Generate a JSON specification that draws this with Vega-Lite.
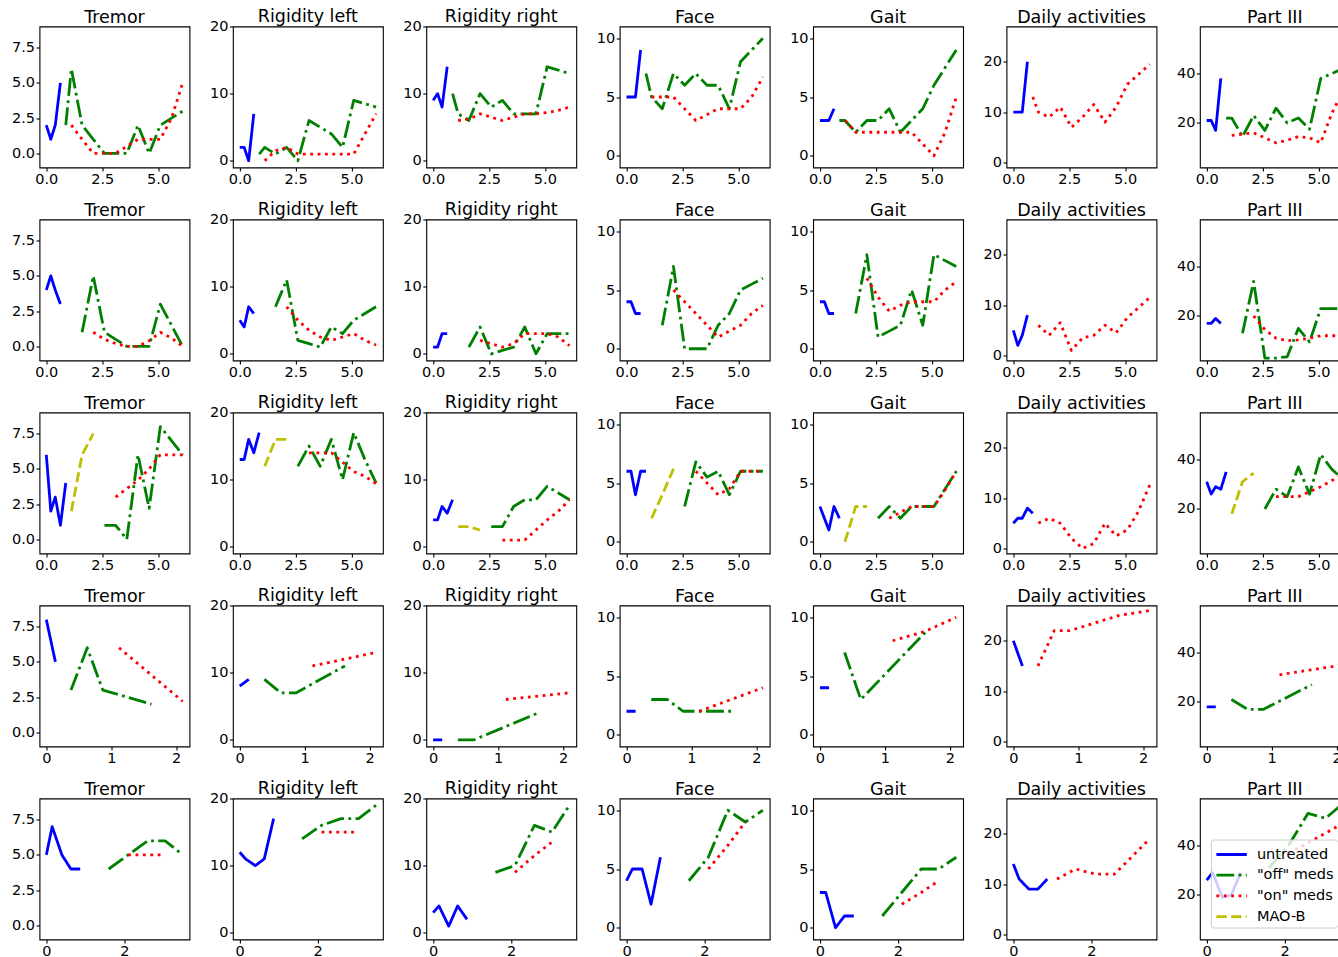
{
"$schema":"https://vega.github.io/schema/vega-lite/v6.json",
"padding":{"left":10.5,"top":7.5,"right":5,"bottom":5},
"background":"white",
"data":{"values":[
{"p":"11","s":"untreated","t":[0,0.2,0.4,0.63],"v":[2,1,2,5]},
{"p":"11","s":"\"off\" meds","t":[0.87,1.12,1.6,2.1,2.6,3.1,3.6,4.1,4.6,5.1,5.6,6.1],"v":[2,6,2,1,0,0,0,2,0,2,2.5,3]},
{"p":"11","s":"\"on\" meds","t":[1.12,1.6,2.1,2.6,3.1,3.6,4.1,4.6,5.1,5.6,6.1],"v":[2,1,0,0,0,0.5,1,1,1,2.5,5]},
{"p":"12","s":"untreated","t":[0,0.2,0.4,0.63],"v":[2,2,0,7]},
{"p":"12","s":"\"off\" meds","t":[0.87,1.12,1.6,2.1,2.6,3.1,3.6,4.1,4.6,5.1,5.6,6.1],"v":[1,2,1,2,0,6,5,4,2,9,8.5,8]},
{"p":"12","s":"\"on\" meds","t":[1.12,1.6,2.1,2.6,3.1,3.6,4.1,4.6,5.1,5.6,6.1],"v":[0,1.5,2,1,1,1,1,1,1,4,7]},
{"p":"13","s":"untreated","t":[0,0.2,0.4,0.63],"v":[9,10,8,14]},
{"p":"13","s":"\"off\" meds","t":[0.87,1.12,1.6,2.1,2.6,3.1,3.6,4.1,4.6,5.1,5.6,6.1],"v":[10,7,6,10,8,9,7,7,7,14,13.5,13]},
{"p":"13","s":"\"on\" meds","t":[1.12,1.6,2.1,2.6,3.1,3.6,4.1,4.6,5.1,5.6,6.1],"v":[6,6.2,7,6.5,6,6.5,7,7,7.2,7.5,8]},
{"p":"14","s":"untreated","t":[0,0.2,0.4,0.63],"v":[5,5,5,9]},
{"p":"14","s":"\"off\" meds","t":[0.87,1.12,1.6,2.1,2.6,3.1,3.6,4.1,4.6,5.1,5.6,6.1],"v":[7,5,4,7,6,7,6,6,4,8,9,10]},
{"p":"14","s":"\"on\" meds","t":[1.12,1.6,2.1,2.6,3.1,3.6,4.1,4.6,5.1,5.6,6.1],"v":[5,5,5,4,3,3.5,4,4,4,5,6.7]},
{"p":"15","s":"untreated","t":[0,0.2,0.4,0.63],"v":[3,3,3,4]},
{"p":"15","s":"\"off\" meds","t":[0.87,1.12,1.6,2.1,2.6,3.1,3.6,4.1,4.6,5.1,5.6,6.1],"v":[3,3,2,3,3,4,2,3,4,6,7.5,9]},
{"p":"15","s":"\"on\" meds","t":[1.12,1.6,2.1,2.6,3.1,3.6,4.1,4.6,5.1,5.6,6.1],"v":[3,2,2,2,2,2,2,1,0,2,5]},
{"p":"16","s":"untreated","t":[0,0.2,0.4,0.63],"v":[10,10,10,20]},
{"p":"16","s":"\"on\" meds","t":[0.87,1.12,1.6,2.1,2.6,3.1,3.6,4.1,4.6,5.1,5.6,6.1],"v":[13,10,9,11,7,9,11.5,8,11,15.5,17.5,19.5]},
{"p":"17","s":"untreated","t":[0,0.2,0.4,0.63],"v":[21,21,17,38]},
{"p":"17","s":"\"off\" meds","t":[0.87,1.12,1.6,2.1,2.6,3.1,3.6,4.1,4.6,5.1,5.6,6.1],"v":[22,22,14.5,23,17,26,20,22,17.5,38,40,42]},
{"p":"17","s":"\"on\" meds","t":[1.12,1.6,2.1,2.6,3.1,3.6,4.1,4.6,5.1,5.6,6.1],"v":[15,15.5,16,14,12,13,14.5,14,12,24,33]},
{"p":"21","s":"untreated","t":[0,0.2,0.4,0.63],"v":[4,5,4,3]},
{"p":"21","s":"\"off\" meds","t":[1.6,2.1,2.6,3.1,3.6,4.1,4.6,5.1,5.6,6.1],"v":[1,5,1,0.5,0,0,0,3,1.5,0]},
{"p":"21","s":"\"on\" meds","t":[2.1,2.6,3.1,3.6,4.1,4.6,5.1,5.6,6.1],"v":[1,0.5,0.2,0,0,0.4,1,0.6,0]},
{"p":"22","s":"untreated","t":[0,0.2,0.4,0.63],"v":[5,4,7,6]},
{"p":"22","s":"\"off\" meds","t":[1.6,2.1,2.6,3.1,3.6,4.1,4.6,5.1,5.6,6.1],"v":[7,11,2,1.5,1,4,3,5,6,7]},
{"p":"22","s":"\"on\" meds","t":[2.1,2.6,3.1,3.6,4.1,4.6,5.1,5.6,6.1],"v":[7,5,3.5,2.5,2,2.5,3,2,1.3]},
{"p":"23","s":"untreated","t":[0,0.2,0.4,0.63],"v":[1,1,3,3]},
{"p":"23","s":"\"off\" meds","t":[1.6,2.1,2.6,3.1,3.6,4.1,4.6,5.1,5.6,6.1],"v":[1,4,0,0.5,1,4,0,3,3,3]},
{"p":"23","s":"\"on\" meds","t":[2.1,2.6,3.1,3.6,4.1,4.6,5.1,5.6,6.1],"v":[2,1.5,1,1.5,3,3,3,2.5,1.2]},
{"p":"24","s":"untreated","t":[0,0.2,0.4,0.63],"v":[4,4,3,3]},
{"p":"24","s":"\"off\" meds","t":[1.6,2.1,2.6,3.1,3.6,4.1,4.6,5.1,5.6,6.1],"v":[2,7,0,0,0,2,3,5,5.5,6]},
{"p":"24","s":"\"on\" meds","t":[2.1,2.6,3.1,3.6,4.1,4.6,5.1,5.6,6.1],"v":[5,4,3,2,1,1.5,2,3,3.7]},
{"p":"25","s":"untreated","t":[0,0.2,0.4,0.63],"v":[4,4,3,3]},
{"p":"25","s":"\"off\" meds","t":[1.6,2.1,2.6,3.1,3.6,4.1,4.6,5.1,5.6,6.1],"v":[3,8,1,1.5,2,5,2,8,7.5,7]},
{"p":"25","s":"\"on\" meds","t":[2.1,2.6,3.1,3.6,4.1,4.6,5.1,5.6,6.1],"v":[6,4.4,3.2,3.7,4,4,4,5,5.7]},
{"p":"26","s":"untreated","t":[0,0.2,0.4,0.63],"v":[5,2,4,8]},
{"p":"26","s":"\"on\" meds","t":[1.12,1.6,2.1,2.6,3.1,3.6,4.1,4.6,5.1,5.6,6.1],"v":[6,4,6.5,1,3.5,4,6,4.5,7.5,9.5,11.5]},
{"p":"27","s":"untreated","t":[0,0.2,0.4,0.63],"v":[17,17,19,17]},
{"p":"27","s":"\"off\" meds","t":[1.6,2.1,2.6,3.1,3.6,4.1,4.6,5.1,5.6,6.1],"v":[13,34,3,3,3.5,15,9.5,23,23,23]},
{"p":"27","s":"\"on\" meds","t":[2.1,2.6,3.1,3.6,4.1,4.6,5.1,5.6,6.1],"v":[20,14.5,11,10,10.3,11,12,12,12]},
{"p":"31","s":"untreated","t":[0,0.2,0.4,0.63,0.87],"v":[6,2,3,1,4]},
{"p":"31","s":"\"off\" meds","t":[2.6,3.1,3.6,4.1,4.6,5.1,5.6,6.1],"v":[1,1,0,6,2.2,8,7,6]},
{"p":"31","s":"\"on\" meds","t":[3.1,3.6,4.1,4.6,5.1,5.6,6.1],"v":[3,3.6,4.2,5,6,6,6]},
{"p":"31","s":"MAO-B","t":[1.12,1.6,2.1],"v":[2,6,7.5]},
{"p":"32","s":"untreated","t":[0,0.2,0.4,0.63,0.87],"v":[13,13,16,14,17]},
{"p":"32","s":"\"off\" meds","t":[2.6,3.1,3.6,4.1,4.6,5.1,5.6,6.1],"v":[12,15,12,16,10,17,13,9.5]},
{"p":"32","s":"\"on\" meds","t":[3.1,3.6,4.1,4.6,5.1,5.6,6.1],"v":[14,14,14,12.6,11.2,10.5,9.4]},
{"p":"32","s":"MAO-B","t":[1.12,1.6,2.1],"v":[12,16,16]},
{"p":"33","s":"untreated","t":[0,0.2,0.4,0.63,0.87],"v":[4,4,6,5,7]},
{"p":"33","s":"\"off\" meds","t":[2.6,3.1,3.6,4.1,4.6,5.1,5.6,6.1],"v":[3,3,6,7,7,9,8,7]},
{"p":"33","s":"\"on\" meds","t":[3.1,3.6,4.1,4.6,5.1,5.6,6.1],"v":[1,1,1,2.5,4,5.3,7]},
{"p":"33","s":"MAO-B","t":[1.12,1.6,2.1],"v":[3,3,2.5]},
{"p":"34","s":"untreated","t":[0,0.2,0.4,0.63,0.87],"v":[6,6,4,6,6]},
{"p":"34","s":"\"off\" meds","t":[2.6,3.1,3.6,4.1,4.6,5.1,5.6,6.1],"v":[3,6.8,5.5,6,4,6,6,6]},
{"p":"34","s":"\"on\" meds","t":[3.1,3.6,4.1,4.6,5.1,5.6,6.1],"v":[6,5,4,4.5,6,6,6]},
{"p":"34","s":"MAO-B","t":[1.12,1.6,2.1],"v":[2,4,6.2]},
{"p":"35","s":"untreated","t":[0,0.2,0.4,0.63,0.87],"v":[3,2,1,3,2]},
{"p":"35","s":"\"off\" meds","t":[2.6,3.1,3.6,4.1,4.6,5.1,5.6,6.1],"v":[2,3,2,3,3,3,4.5,6]},
{"p":"35","s":"\"on\" meds","t":[3.1,3.6,4.1,4.6,5.1,5.6,6.1],"v":[2,2.5,3,3,3,4.4,6]},
{"p":"35","s":"MAO-B","t":[1.12,1.6,2.1],"v":[0,3,3]},
{"p":"36","s":"untreated","t":[0,0.2,0.4,0.63,0.87],"v":[5,6,6,8,7]},
{"p":"36","s":"\"on\" meds","t":[1.12,1.6,2.1,2.6,3.1,3.6,4.1,4.6,5.1,5.6,6.1],"v":[5,6,5,2,0,1,5,2.5,3.7,7.4,12.6]},
{"p":"37","s":"untreated","t":[0,0.2,0.4,0.63,0.87],"v":[31,26,29,28,35]},
{"p":"37","s":"\"off\" meds","t":[2.6,3.1,3.6,4.1,4.6,5.1,5.6,6.1],"v":[20,28,25,37,26,42,36,32]},
{"p":"37","s":"\"on\" meds","t":[3.1,3.6,4.1,4.6,5.1,5.6,6.1],"v":[25,25,25,27,29,31.5,34]},
{"p":"37","s":"MAO-B","t":[1.12,1.6,2.1],"v":[18,31,34.5]},
{"p":"41","s":"untreated","t":[0,0.14],"v":[8,5]},
{"p":"41","s":"\"off\" meds","t":[0.38,0.63,0.87,1.62],"v":[3,6,3,2]},
{"p":"41","s":"\"on\" meds","t":[1.12,2.1],"v":[6,2.2]},
{"p":"42","s":"untreated","t":[0,0.14],"v":[8,9]},
{"p":"42","s":"\"off\" meds","t":[0.38,0.63,0.87,1.62],"v":[9,7,7,11]},
{"p":"42","s":"\"on\" meds","t":[1.12,2.1],"v":[11,13]},
{"p":"43","s":"untreated","t":[0,0.14],"v":[0,0]},
{"p":"43","s":"\"off\" meds","t":[0.38,0.63,1.62],"v":[0,0,4]},
{"p":"43","s":"\"on\" meds","t":[1.12,2.1],"v":[6,7]},
{"p":"44","s":"untreated","t":[0,0.14],"v":[2,2]},
{"p":"44","s":"\"off\" meds","t":[0.38,0.63,0.87,1.62],"v":[3,3,2,2]},
{"p":"44","s":"\"on\" meds","t":[1.12,2.1],"v":[2,4]},
{"p":"45","s":"untreated","t":[0,0.14],"v":[4,4]},
{"p":"45","s":"\"off\" meds","t":[0.38,0.63,1.62],"v":[7,3,8.7]},
{"p":"45","s":"\"on\" meds","t":[1.12,1.62,2.1],"v":[8,8.8,10]},
{"p":"46","s":"untreated","t":[0,0.14],"v":[20,15]},
{"p":"46","s":"\"on\" meds","t":[0.38,0.63,0.87,1.12,1.62,2.1],"v":[15,22,22,23,25,26]},
{"p":"47","s":"untreated","t":[0,0.14],"v":[18,18]},
{"p":"47","s":"\"off\" meds","t":[0.38,0.63,0.87,1.62],"v":[21,17,17,27]},
{"p":"47","s":"\"on\" meds","t":[1.12,2.1],"v":[31,35]},
{"p":"51","s":"untreated","t":[0,0.15,0.4,0.63,0.87],"v":[5,7,5,4,4]},
{"p":"51","s":"\"off\" meds","t":[1.6,2.1,2.6,3.05,3.5],"v":[4,5,6,6,5]},
{"p":"51","s":"\"on\" meds","t":[2.1,2.6,3.05],"v":[5,5,5]},
{"p":"52","s":"untreated","t":[0,0.15,0.4,0.63,0.87],"v":[12,11,10,11,17]},
{"p":"52","s":"\"off\" meds","t":[1.6,2.1,2.6,3.05,3.5],"v":[14,16,17,17,19]},
{"p":"52","s":"\"on\" meds","t":[2.1,2.6,3.05],"v":[15,15,15]},
{"p":"53","s":"untreated","t":[0,0.15,0.4,0.63,0.87],"v":[3,4,1,4,2]},
{"p":"53","s":"\"off\" meds","t":[1.6,2.1,2.6,3.05,3.5],"v":[9,10,16,15,19]},
{"p":"53","s":"\"on\" meds","t":[2.1,2.6,3.05],"v":[9,11.5,13.5]},
{"p":"54","s":"untreated","t":[0,0.15,0.4,0.63,0.87],"v":[4,5,5,2,6]},
{"p":"54","s":"\"off\" meds","t":[1.6,2.1,2.6,3.05,3.5],"v":[4,6,10,9,10]},
{"p":"54","s":"\"on\" meds","t":[2.1,2.6,3.05],"v":[5,7,9]},
{"p":"55","s":"untreated","t":[0,0.15,0.4,0.63,0.87],"v":[3,3,0,1,1]},
{"p":"55","s":"\"off\" meds","t":[1.6,2.1,2.6,3.05,3.5],"v":[1,3,5,5,6]},
{"p":"55","s":"\"on\" meds","t":[2.1,2.6,3.05],"v":[2,3,4]},
{"p":"56","s":"untreated","t":[0,0.15,0.4,0.63,0.87],"v":[14,11,9,9,11]},
{"p":"56","s":"\"on\" meds","t":[1.12,1.6,2.1,2.6,3.05,3.5],"v":[11,13,12,12,15.5,19]},
{"p":"57","s":"untreated","t":[0,0.15,0.4,0.63,0.87],"v":[26,29,19,20,29]},
{"p":"57","s":"\"off\" meds","t":[1.6,2.1,2.6,3.05,3.5],"v":[31,40,53,51,57]},
{"p":"57","s":"\"on\" meds","t":[2.1,2.6,3.05,3.5],"v":[37,41,45,49]}
]},
"transform":[{"flatten":["t","v"]}],
"columns":7,
"spacing":{"row":52,"column":43.4},
"bounds":"flush",
"resolve":{"legend":{"color":"independent","strokeDash":"independent"}},
"concat":[
{"title":"Tremor","width":150,"height":141,"transform":[{"filter":"datum.p=='11'"}],"mark":{"type":"line","strokeWidth":2.8,"strokeJoin":"round"},"encoding":{"x":{"field":"t","type":"quantitative","title":null,"scale":{"domain":[-0.305,6.405],"nice":false,"zero":false},"axis":{"values":[0,2.5,5],"format":".1f"}},"y":{"field":"v","type":"quantitative","title":null,"scale":{"domain":[-1,9],"nice":false,"zero":false},"axis":{"values":[0,2.5,5,7.5],"format":".1f"}},"color":{"field":"s","type":"nominal","scale":{"domain":["untreated","\"off\" meds","\"on\" meds","MAO-B"],"range":["#0000ff","#008000","#ff0000","#bfbf00"]},"legend":null},"strokeDash":{"field":"s","type":"nominal","scale":{"domain":["untreated","\"off\" meds","\"on\" meds","MAO-B"],"range":[[1,0],[17.8,4.4,2.8,4.4],[2.8,4.6],[10.3,4.4]]},"legend":null}}},
{"title":{"text":"Rigidity left","dy":11.25},"width":150,"height":141,"transform":[{"filter":"datum.p=='12'"}],"mark":{"type":"line","strokeWidth":2.8,"strokeJoin":"round"},"encoding":{"x":{"field":"t","type":"quantitative","title":null,"scale":{"domain":[-0.305,6.405],"nice":false,"zero":false},"axis":{"values":[0,2.5,5],"format":".1f"}},"y":{"field":"v","type":"quantitative","title":null,"scale":{"domain":[-1,20],"nice":false,"zero":false},"axis":{"values":[0,10,20],"format":"d"}},"color":{"field":"s","type":"nominal","scale":{"domain":["untreated","\"off\" meds","\"on\" meds","MAO-B"],"range":["#0000ff","#008000","#ff0000","#bfbf00"]},"legend":null},"strokeDash":{"field":"s","type":"nominal","scale":{"domain":["untreated","\"off\" meds","\"on\" meds","MAO-B"],"range":[[1,0],[17.8,4.4,2.8,4.4],[2.8,4.6],[10.3,4.4]]},"legend":null}}},
{"title":{"text":"Rigidity right","dy":11.25},"width":150,"height":141,"transform":[{"filter":"datum.p=='13'"}],"mark":{"type":"line","strokeWidth":2.8,"strokeJoin":"round"},"encoding":{"x":{"field":"t","type":"quantitative","title":null,"scale":{"domain":[-0.305,6.405],"nice":false,"zero":false},"axis":{"values":[0,2.5,5],"format":".1f"}},"y":{"field":"v","type":"quantitative","title":null,"scale":{"domain":[-1,20],"nice":false,"zero":false},"axis":{"values":[0,10,20],"format":"d"}},"color":{"field":"s","type":"nominal","scale":{"domain":["untreated","\"off\" meds","\"on\" meds","MAO-B"],"range":["#0000ff","#008000","#ff0000","#bfbf00"]},"legend":null},"strokeDash":{"field":"s","type":"nominal","scale":{"domain":["untreated","\"off\" meds","\"on\" meds","MAO-B"],"range":[[1,0],[17.8,4.4,2.8,4.4],[2.8,4.6],[10.3,4.4]]},"legend":null}}},
{"title":"Face","width":150,"height":141,"transform":[{"filter":"datum.p=='14'"}],"mark":{"type":"line","strokeWidth":2.8,"strokeJoin":"round"},"encoding":{"x":{"field":"t","type":"quantitative","title":null,"scale":{"domain":[-0.305,6.405],"nice":false,"zero":false},"axis":{"values":[0,2.5,5],"format":".1f"}},"y":{"field":"v","type":"quantitative","title":null,"scale":{"domain":[-1,11],"nice":false,"zero":false},"axis":{"values":[0,5,10],"format":"d"}},"color":{"field":"s","type":"nominal","scale":{"domain":["untreated","\"off\" meds","\"on\" meds","MAO-B"],"range":["#0000ff","#008000","#ff0000","#bfbf00"]},"legend":null},"strokeDash":{"field":"s","type":"nominal","scale":{"domain":["untreated","\"off\" meds","\"on\" meds","MAO-B"],"range":[[1,0],[17.8,4.4,2.8,4.4],[2.8,4.6],[10.3,4.4]]},"legend":null}}},
{"title":"Gait","width":150,"height":141,"transform":[{"filter":"datum.p=='15'"}],"mark":{"type":"line","strokeWidth":2.8,"strokeJoin":"round"},"encoding":{"x":{"field":"t","type":"quantitative","title":null,"scale":{"domain":[-0.305,6.405],"nice":false,"zero":false},"axis":{"values":[0,2.5,5],"format":".1f"}},"y":{"field":"v","type":"quantitative","title":null,"scale":{"domain":[-1,11],"nice":false,"zero":false},"axis":{"values":[0,5,10],"format":"d"}},"color":{"field":"s","type":"nominal","scale":{"domain":["untreated","\"off\" meds","\"on\" meds","MAO-B"],"range":["#0000ff","#008000","#ff0000","#bfbf00"]},"legend":null},"strokeDash":{"field":"s","type":"nominal","scale":{"domain":["untreated","\"off\" meds","\"on\" meds","MAO-B"],"range":[[1,0],[17.8,4.4,2.8,4.4],[2.8,4.6],[10.3,4.4]]},"legend":null}}},
{"title":"Daily activities","width":150,"height":141,"transform":[{"filter":"datum.p=='16'"}],"mark":{"type":"line","strokeWidth":2.8,"strokeJoin":"round"},"encoding":{"x":{"field":"t","type":"quantitative","title":null,"scale":{"domain":[-0.305,6.405],"nice":false,"zero":false},"axis":{"values":[0,2.5,5],"format":".1f"}},"y":{"field":"v","type":"quantitative","title":null,"scale":{"domain":[-1,27],"nice":false,"zero":false},"axis":{"values":[0,10,20],"format":"d"}},"color":{"field":"s","type":"nominal","scale":{"domain":["untreated","\"off\" meds","\"on\" meds","MAO-B"],"range":["#0000ff","#008000","#ff0000","#bfbf00"]},"legend":null},"strokeDash":{"field":"s","type":"nominal","scale":{"domain":["untreated","\"off\" meds","\"on\" meds","MAO-B"],"range":[[1,0],[17.8,4.4,2.8,4.4],[2.8,4.6],[10.3,4.4]]},"legend":null}}},
{"title":"Part III","width":150,"height":141,"transform":[{"filter":"datum.p=='17'"}],"mark":{"type":"line","strokeWidth":2.8,"strokeJoin":"round"},"encoding":{"x":{"field":"t","type":"quantitative","title":null,"scale":{"domain":[-0.305,6.405],"nice":false,"zero":false},"axis":{"values":[0,2.5,5],"format":".1f"}},"y":{"field":"v","type":"quantitative","title":null,"scale":{"domain":[2,59],"nice":false,"zero":false},"axis":{"values":[20,40],"format":"d"}},"color":{"field":"s","type":"nominal","scale":{"domain":["untreated","\"off\" meds","\"on\" meds","MAO-B"],"range":["#0000ff","#008000","#ff0000","#bfbf00"]},"legend":null},"strokeDash":{"field":"s","type":"nominal","scale":{"domain":["untreated","\"off\" meds","\"on\" meds","MAO-B"],"range":[[1,0],[17.8,4.4,2.8,4.4],[2.8,4.6],[10.3,4.4]]},"legend":null}}},

{"title":"Tremor","width":150,"height":141,"transform":[{"filter":"datum.p=='21'"}],"mark":{"type":"line","strokeWidth":2.8,"strokeJoin":"round"},"encoding":{"x":{"field":"t","type":"quantitative","title":null,"scale":{"domain":[-0.305,6.405],"nice":false,"zero":false},"axis":{"values":[0,2.5,5],"format":".1f"}},"y":{"field":"v","type":"quantitative","title":null,"scale":{"domain":[-1,9],"nice":false,"zero":false},"axis":{"values":[0,2.5,5,7.5],"format":".1f"}},"color":{"field":"s","type":"nominal","scale":{"domain":["untreated","\"off\" meds","\"on\" meds","MAO-B"],"range":["#0000ff","#008000","#ff0000","#bfbf00"]},"legend":null},"strokeDash":{"field":"s","type":"nominal","scale":{"domain":["untreated","\"off\" meds","\"on\" meds","MAO-B"],"range":[[1,0],[17.8,4.4,2.8,4.4],[2.8,4.6],[10.3,4.4]]},"legend":null}}},
{"title":{"text":"Rigidity left","dy":11.25},"width":150,"height":141,"transform":[{"filter":"datum.p=='22'"}],"mark":{"type":"line","strokeWidth":2.8,"strokeJoin":"round"},"encoding":{"x":{"field":"t","type":"quantitative","title":null,"scale":{"domain":[-0.305,6.405],"nice":false,"zero":false},"axis":{"values":[0,2.5,5],"format":".1f"}},"y":{"field":"v","type":"quantitative","title":null,"scale":{"domain":[-1,20],"nice":false,"zero":false},"axis":{"values":[0,10,20],"format":"d"}},"color":{"field":"s","type":"nominal","scale":{"domain":["untreated","\"off\" meds","\"on\" meds","MAO-B"],"range":["#0000ff","#008000","#ff0000","#bfbf00"]},"legend":null},"strokeDash":{"field":"s","type":"nominal","scale":{"domain":["untreated","\"off\" meds","\"on\" meds","MAO-B"],"range":[[1,0],[17.8,4.4,2.8,4.4],[2.8,4.6],[10.3,4.4]]},"legend":null}}},
{"title":{"text":"Rigidity right","dy":11.25},"width":150,"height":141,"transform":[{"filter":"datum.p=='23'"}],"mark":{"type":"line","strokeWidth":2.8,"strokeJoin":"round"},"encoding":{"x":{"field":"t","type":"quantitative","title":null,"scale":{"domain":[-0.305,6.405],"nice":false,"zero":false},"axis":{"values":[0,2.5,5],"format":".1f"}},"y":{"field":"v","type":"quantitative","title":null,"scale":{"domain":[-1,20],"nice":false,"zero":false},"axis":{"values":[0,10,20],"format":"d"}},"color":{"field":"s","type":"nominal","scale":{"domain":["untreated","\"off\" meds","\"on\" meds","MAO-B"],"range":["#0000ff","#008000","#ff0000","#bfbf00"]},"legend":null},"strokeDash":{"field":"s","type":"nominal","scale":{"domain":["untreated","\"off\" meds","\"on\" meds","MAO-B"],"range":[[1,0],[17.8,4.4,2.8,4.4],[2.8,4.6],[10.3,4.4]]},"legend":null}}},
{"title":"Face","width":150,"height":141,"transform":[{"filter":"datum.p=='24'"}],"mark":{"type":"line","strokeWidth":2.8,"strokeJoin":"round"},"encoding":{"x":{"field":"t","type":"quantitative","title":null,"scale":{"domain":[-0.305,6.405],"nice":false,"zero":false},"axis":{"values":[0,2.5,5],"format":".1f"}},"y":{"field":"v","type":"quantitative","title":null,"scale":{"domain":[-1,11],"nice":false,"zero":false},"axis":{"values":[0,5,10],"format":"d"}},"color":{"field":"s","type":"nominal","scale":{"domain":["untreated","\"off\" meds","\"on\" meds","MAO-B"],"range":["#0000ff","#008000","#ff0000","#bfbf00"]},"legend":null},"strokeDash":{"field":"s","type":"nominal","scale":{"domain":["untreated","\"off\" meds","\"on\" meds","MAO-B"],"range":[[1,0],[17.8,4.4,2.8,4.4],[2.8,4.6],[10.3,4.4]]},"legend":null}}},
{"title":"Gait","width":150,"height":141,"transform":[{"filter":"datum.p=='25'"}],"mark":{"type":"line","strokeWidth":2.8,"strokeJoin":"round"},"encoding":{"x":{"field":"t","type":"quantitative","title":null,"scale":{"domain":[-0.305,6.405],"nice":false,"zero":false},"axis":{"values":[0,2.5,5],"format":".1f"}},"y":{"field":"v","type":"quantitative","title":null,"scale":{"domain":[-1,11],"nice":false,"zero":false},"axis":{"values":[0,5,10],"format":"d"}},"color":{"field":"s","type":"nominal","scale":{"domain":["untreated","\"off\" meds","\"on\" meds","MAO-B"],"range":["#0000ff","#008000","#ff0000","#bfbf00"]},"legend":null},"strokeDash":{"field":"s","type":"nominal","scale":{"domain":["untreated","\"off\" meds","\"on\" meds","MAO-B"],"range":[[1,0],[17.8,4.4,2.8,4.4],[2.8,4.6],[10.3,4.4]]},"legend":null}}},
{"title":"Daily activities","width":150,"height":141,"transform":[{"filter":"datum.p=='26'"}],"mark":{"type":"line","strokeWidth":2.8,"strokeJoin":"round"},"encoding":{"x":{"field":"t","type":"quantitative","title":null,"scale":{"domain":[-0.305,6.405],"nice":false,"zero":false},"axis":{"values":[0,2.5,5],"format":".1f"}},"y":{"field":"v","type":"quantitative","title":null,"scale":{"domain":[-1,27],"nice":false,"zero":false},"axis":{"values":[0,10,20],"format":"d"}},"color":{"field":"s","type":"nominal","scale":{"domain":["untreated","\"off\" meds","\"on\" meds","MAO-B"],"range":["#0000ff","#008000","#ff0000","#bfbf00"]},"legend":null},"strokeDash":{"field":"s","type":"nominal","scale":{"domain":["untreated","\"off\" meds","\"on\" meds","MAO-B"],"range":[[1,0],[17.8,4.4,2.8,4.4],[2.8,4.6],[10.3,4.4]]},"legend":null}}},
{"title":"Part III","width":150,"height":141,"transform":[{"filter":"datum.p=='27'"}],"mark":{"type":"line","strokeWidth":2.8,"strokeJoin":"round"},"encoding":{"x":{"field":"t","type":"quantitative","title":null,"scale":{"domain":[-0.305,6.405],"nice":false,"zero":false},"axis":{"values":[0,2.5,5],"format":".1f"}},"y":{"field":"v","type":"quantitative","title":null,"scale":{"domain":[2,59],"nice":false,"zero":false},"axis":{"values":[20,40],"format":"d"}},"color":{"field":"s","type":"nominal","scale":{"domain":["untreated","\"off\" meds","\"on\" meds","MAO-B"],"range":["#0000ff","#008000","#ff0000","#bfbf00"]},"legend":null},"strokeDash":{"field":"s","type":"nominal","scale":{"domain":["untreated","\"off\" meds","\"on\" meds","MAO-B"],"range":[[1,0],[17.8,4.4,2.8,4.4],[2.8,4.6],[10.3,4.4]]},"legend":null}}},

{"title":"Tremor","width":150,"height":141,"transform":[{"filter":"datum.p=='31'"}],"mark":{"type":"line","strokeWidth":2.8,"strokeJoin":"round"},"encoding":{"x":{"field":"t","type":"quantitative","title":null,"scale":{"domain":[-0.305,6.405],"nice":false,"zero":false},"axis":{"values":[0,2.5,5],"format":".1f"}},"y":{"field":"v","type":"quantitative","title":null,"scale":{"domain":[-1,9],"nice":false,"zero":false},"axis":{"values":[0,2.5,5,7.5],"format":".1f"}},"color":{"field":"s","type":"nominal","scale":{"domain":["untreated","\"off\" meds","\"on\" meds","MAO-B"],"range":["#0000ff","#008000","#ff0000","#bfbf00"]},"legend":null},"strokeDash":{"field":"s","type":"nominal","scale":{"domain":["untreated","\"off\" meds","\"on\" meds","MAO-B"],"range":[[1,0],[17.8,4.4,2.8,4.4],[2.8,4.6],[10.3,4.4]]},"legend":null}}},
{"title":{"text":"Rigidity left","dy":11.25},"width":150,"height":141,"transform":[{"filter":"datum.p=='32'"}],"mark":{"type":"line","strokeWidth":2.8,"strokeJoin":"round"},"encoding":{"x":{"field":"t","type":"quantitative","title":null,"scale":{"domain":[-0.305,6.405],"nice":false,"zero":false},"axis":{"values":[0,2.5,5],"format":".1f"}},"y":{"field":"v","type":"quantitative","title":null,"scale":{"domain":[-1,20],"nice":false,"zero":false},"axis":{"values":[0,10,20],"format":"d"}},"color":{"field":"s","type":"nominal","scale":{"domain":["untreated","\"off\" meds","\"on\" meds","MAO-B"],"range":["#0000ff","#008000","#ff0000","#bfbf00"]},"legend":null},"strokeDash":{"field":"s","type":"nominal","scale":{"domain":["untreated","\"off\" meds","\"on\" meds","MAO-B"],"range":[[1,0],[17.8,4.4,2.8,4.4],[2.8,4.6],[10.3,4.4]]},"legend":null}}},
{"title":{"text":"Rigidity right","dy":11.25},"width":150,"height":141,"transform":[{"filter":"datum.p=='33'"}],"mark":{"type":"line","strokeWidth":2.8,"strokeJoin":"round"},"encoding":{"x":{"field":"t","type":"quantitative","title":null,"scale":{"domain":[-0.305,6.405],"nice":false,"zero":false},"axis":{"values":[0,2.5,5],"format":".1f"}},"y":{"field":"v","type":"quantitative","title":null,"scale":{"domain":[-1,20],"nice":false,"zero":false},"axis":{"values":[0,10,20],"format":"d"}},"color":{"field":"s","type":"nominal","scale":{"domain":["untreated","\"off\" meds","\"on\" meds","MAO-B"],"range":["#0000ff","#008000","#ff0000","#bfbf00"]},"legend":null},"strokeDash":{"field":"s","type":"nominal","scale":{"domain":["untreated","\"off\" meds","\"on\" meds","MAO-B"],"range":[[1,0],[17.8,4.4,2.8,4.4],[2.8,4.6],[10.3,4.4]]},"legend":null}}},
{"title":"Face","width":150,"height":141,"transform":[{"filter":"datum.p=='34'"}],"mark":{"type":"line","strokeWidth":2.8,"strokeJoin":"round"},"encoding":{"x":{"field":"t","type":"quantitative","title":null,"scale":{"domain":[-0.305,6.405],"nice":false,"zero":false},"axis":{"values":[0,2.5,5],"format":".1f"}},"y":{"field":"v","type":"quantitative","title":null,"scale":{"domain":[-1,11],"nice":false,"zero":false},"axis":{"values":[0,5,10],"format":"d"}},"color":{"field":"s","type":"nominal","scale":{"domain":["untreated","\"off\" meds","\"on\" meds","MAO-B"],"range":["#0000ff","#008000","#ff0000","#bfbf00"]},"legend":null},"strokeDash":{"field":"s","type":"nominal","scale":{"domain":["untreated","\"off\" meds","\"on\" meds","MAO-B"],"range":[[1,0],[17.8,4.4,2.8,4.4],[2.8,4.6],[10.3,4.4]]},"legend":null}}},
{"title":"Gait","width":150,"height":141,"transform":[{"filter":"datum.p=='35'"}],"mark":{"type":"line","strokeWidth":2.8,"strokeJoin":"round"},"encoding":{"x":{"field":"t","type":"quantitative","title":null,"scale":{"domain":[-0.305,6.405],"nice":false,"zero":false},"axis":{"values":[0,2.5,5],"format":".1f"}},"y":{"field":"v","type":"quantitative","title":null,"scale":{"domain":[-1,11],"nice":false,"zero":false},"axis":{"values":[0,5,10],"format":"d"}},"color":{"field":"s","type":"nominal","scale":{"domain":["untreated","\"off\" meds","\"on\" meds","MAO-B"],"range":["#0000ff","#008000","#ff0000","#bfbf00"]},"legend":null},"strokeDash":{"field":"s","type":"nominal","scale":{"domain":["untreated","\"off\" meds","\"on\" meds","MAO-B"],"range":[[1,0],[17.8,4.4,2.8,4.4],[2.8,4.6],[10.3,4.4]]},"legend":null}}},
{"title":"Daily activities","width":150,"height":141,"transform":[{"filter":"datum.p=='36'"}],"mark":{"type":"line","strokeWidth":2.8,"strokeJoin":"round"},"encoding":{"x":{"field":"t","type":"quantitative","title":null,"scale":{"domain":[-0.305,6.405],"nice":false,"zero":false},"axis":{"values":[0,2.5,5],"format":".1f"}},"y":{"field":"v","type":"quantitative","title":null,"scale":{"domain":[-1,27],"nice":false,"zero":false},"axis":{"values":[0,10,20],"format":"d"}},"color":{"field":"s","type":"nominal","scale":{"domain":["untreated","\"off\" meds","\"on\" meds","MAO-B"],"range":["#0000ff","#008000","#ff0000","#bfbf00"]},"legend":null},"strokeDash":{"field":"s","type":"nominal","scale":{"domain":["untreated","\"off\" meds","\"on\" meds","MAO-B"],"range":[[1,0],[17.8,4.4,2.8,4.4],[2.8,4.6],[10.3,4.4]]},"legend":null}}},
{"title":"Part III","width":150,"height":141,"transform":[{"filter":"datum.p=='37'"}],"mark":{"type":"line","strokeWidth":2.8,"strokeJoin":"round"},"encoding":{"x":{"field":"t","type":"quantitative","title":null,"scale":{"domain":[-0.305,6.405],"nice":false,"zero":false},"axis":{"values":[0,2.5,5],"format":".1f"}},"y":{"field":"v","type":"quantitative","title":null,"scale":{"domain":[2,59],"nice":false,"zero":false},"axis":{"values":[20,40],"format":"d"}},"color":{"field":"s","type":"nominal","scale":{"domain":["untreated","\"off\" meds","\"on\" meds","MAO-B"],"range":["#0000ff","#008000","#ff0000","#bfbf00"]},"legend":null},"strokeDash":{"field":"s","type":"nominal","scale":{"domain":["untreated","\"off\" meds","\"on\" meds","MAO-B"],"range":[[1,0],[17.8,4.4,2.8,4.4],[2.8,4.6],[10.3,4.4]]},"legend":null}}},

{"title":"Tremor","width":150,"height":141,"transform":[{"filter":"datum.p=='41'"}],"mark":{"type":"line","strokeWidth":2.8,"strokeJoin":"round"},"encoding":{"x":{"field":"t","type":"quantitative","title":null,"scale":{"domain":[-0.105,2.205],"nice":false,"zero":false},"axis":{"values":[0,1,2],"format":"d"}},"y":{"field":"v","type":"quantitative","title":null,"scale":{"domain":[-1,9],"nice":false,"zero":false},"axis":{"values":[0,2.5,5,7.5],"format":".1f"}},"color":{"field":"s","type":"nominal","scale":{"domain":["untreated","\"off\" meds","\"on\" meds","MAO-B"],"range":["#0000ff","#008000","#ff0000","#bfbf00"]},"legend":null},"strokeDash":{"field":"s","type":"nominal","scale":{"domain":["untreated","\"off\" meds","\"on\" meds","MAO-B"],"range":[[1,0],[17.8,4.4,2.8,4.4],[2.8,4.6],[10.3,4.4]]},"legend":null}}},
{"title":{"text":"Rigidity left","dy":11.25},"width":150,"height":141,"transform":[{"filter":"datum.p=='42'"}],"mark":{"type":"line","strokeWidth":2.8,"strokeJoin":"round"},"encoding":{"x":{"field":"t","type":"quantitative","title":null,"scale":{"domain":[-0.105,2.205],"nice":false,"zero":false},"axis":{"values":[0,1,2],"format":"d"}},"y":{"field":"v","type":"quantitative","title":null,"scale":{"domain":[-1,20],"nice":false,"zero":false},"axis":{"values":[0,10,20],"format":"d"}},"color":{"field":"s","type":"nominal","scale":{"domain":["untreated","\"off\" meds","\"on\" meds","MAO-B"],"range":["#0000ff","#008000","#ff0000","#bfbf00"]},"legend":null},"strokeDash":{"field":"s","type":"nominal","scale":{"domain":["untreated","\"off\" meds","\"on\" meds","MAO-B"],"range":[[1,0],[17.8,4.4,2.8,4.4],[2.8,4.6],[10.3,4.4]]},"legend":null}}},
{"title":{"text":"Rigidity right","dy":11.25},"width":150,"height":141,"transform":[{"filter":"datum.p=='43'"}],"mark":{"type":"line","strokeWidth":2.8,"strokeJoin":"round"},"encoding":{"x":{"field":"t","type":"quantitative","title":null,"scale":{"domain":[-0.105,2.205],"nice":false,"zero":false},"axis":{"values":[0,1,2],"format":"d"}},"y":{"field":"v","type":"quantitative","title":null,"scale":{"domain":[-1,20],"nice":false,"zero":false},"axis":{"values":[0,10,20],"format":"d"}},"color":{"field":"s","type":"nominal","scale":{"domain":["untreated","\"off\" meds","\"on\" meds","MAO-B"],"range":["#0000ff","#008000","#ff0000","#bfbf00"]},"legend":null},"strokeDash":{"field":"s","type":"nominal","scale":{"domain":["untreated","\"off\" meds","\"on\" meds","MAO-B"],"range":[[1,0],[17.8,4.4,2.8,4.4],[2.8,4.6],[10.3,4.4]]},"legend":null}}},
{"title":"Face","width":150,"height":141,"transform":[{"filter":"datum.p=='44'"}],"mark":{"type":"line","strokeWidth":2.8,"strokeJoin":"round"},"encoding":{"x":{"field":"t","type":"quantitative","title":null,"scale":{"domain":[-0.105,2.205],"nice":false,"zero":false},"axis":{"values":[0,1,2],"format":"d"}},"y":{"field":"v","type":"quantitative","title":null,"scale":{"domain":[-1,11],"nice":false,"zero":false},"axis":{"values":[0,5,10],"format":"d"}},"color":{"field":"s","type":"nominal","scale":{"domain":["untreated","\"off\" meds","\"on\" meds","MAO-B"],"range":["#0000ff","#008000","#ff0000","#bfbf00"]},"legend":null},"strokeDash":{"field":"s","type":"nominal","scale":{"domain":["untreated","\"off\" meds","\"on\" meds","MAO-B"],"range":[[1,0],[17.8,4.4,2.8,4.4],[2.8,4.6],[10.3,4.4]]},"legend":null}}},
{"title":"Gait","width":150,"height":141,"transform":[{"filter":"datum.p=='45'"}],"mark":{"type":"line","strokeWidth":2.8,"strokeJoin":"round"},"encoding":{"x":{"field":"t","type":"quantitative","title":null,"scale":{"domain":[-0.105,2.205],"nice":false,"zero":false},"axis":{"values":[0,1,2],"format":"d"}},"y":{"field":"v","type":"quantitative","title":null,"scale":{"domain":[-1,11],"nice":false,"zero":false},"axis":{"values":[0,5,10],"format":"d"}},"color":{"field":"s","type":"nominal","scale":{"domain":["untreated","\"off\" meds","\"on\" meds","MAO-B"],"range":["#0000ff","#008000","#ff0000","#bfbf00"]},"legend":null},"strokeDash":{"field":"s","type":"nominal","scale":{"domain":["untreated","\"off\" meds","\"on\" meds","MAO-B"],"range":[[1,0],[17.8,4.4,2.8,4.4],[2.8,4.6],[10.3,4.4]]},"legend":null}}},
{"title":"Daily activities","width":150,"height":141,"transform":[{"filter":"datum.p=='46'"}],"mark":{"type":"line","strokeWidth":2.8,"strokeJoin":"round"},"encoding":{"x":{"field":"t","type":"quantitative","title":null,"scale":{"domain":[-0.105,2.205],"nice":false,"zero":false},"axis":{"values":[0,1,2],"format":"d"}},"y":{"field":"v","type":"quantitative","title":null,"scale":{"domain":[-1,27],"nice":false,"zero":false},"axis":{"values":[0,10,20],"format":"d"}},"color":{"field":"s","type":"nominal","scale":{"domain":["untreated","\"off\" meds","\"on\" meds","MAO-B"],"range":["#0000ff","#008000","#ff0000","#bfbf00"]},"legend":null},"strokeDash":{"field":"s","type":"nominal","scale":{"domain":["untreated","\"off\" meds","\"on\" meds","MAO-B"],"range":[[1,0],[17.8,4.4,2.8,4.4],[2.8,4.6],[10.3,4.4]]},"legend":null}}},
{"title":"Part III","width":150,"height":141,"transform":[{"filter":"datum.p=='47'"}],"mark":{"type":"line","strokeWidth":2.8,"strokeJoin":"round"},"encoding":{"x":{"field":"t","type":"quantitative","title":null,"scale":{"domain":[-0.105,2.205],"nice":false,"zero":false},"axis":{"values":[0,1,2],"format":"d"}},"y":{"field":"v","type":"quantitative","title":null,"scale":{"domain":[2,59],"nice":false,"zero":false},"axis":{"values":[20,40],"format":"d"}},"color":{"field":"s","type":"nominal","scale":{"domain":["untreated","\"off\" meds","\"on\" meds","MAO-B"],"range":["#0000ff","#008000","#ff0000","#bfbf00"]},"legend":null},"strokeDash":{"field":"s","type":"nominal","scale":{"domain":["untreated","\"off\" meds","\"on\" meds","MAO-B"],"range":[[1,0],[17.8,4.4,2.8,4.4],[2.8,4.6],[10.3,4.4]]},"legend":null}}},

{"title":"Tremor","width":150,"height":141,"transform":[{"filter":"datum.p=='51'"}],"mark":{"type":"line","strokeWidth":2.8,"strokeJoin":"round"},"encoding":{"x":{"field":"t","type":"quantitative","title":null,"scale":{"domain":[-0.175,3.675],"nice":false,"zero":false},"axis":{"values":[0,2],"format":"d"}},"y":{"field":"v","type":"quantitative","title":null,"scale":{"domain":[-1,9],"nice":false,"zero":false},"axis":{"values":[0,2.5,5,7.5],"format":".1f"}},"color":{"field":"s","type":"nominal","scale":{"domain":["untreated","\"off\" meds","\"on\" meds","MAO-B"],"range":["#0000ff","#008000","#ff0000","#bfbf00"]},"legend":null},"strokeDash":{"field":"s","type":"nominal","scale":{"domain":["untreated","\"off\" meds","\"on\" meds","MAO-B"],"range":[[1,0],[17.8,4.4,2.8,4.4],[2.8,4.6],[10.3,4.4]]},"legend":null}}},
{"title":{"text":"Rigidity left","dy":11.25},"width":150,"height":141,"transform":[{"filter":"datum.p=='52'"}],"mark":{"type":"line","strokeWidth":2.8,"strokeJoin":"round"},"encoding":{"x":{"field":"t","type":"quantitative","title":null,"scale":{"domain":[-0.175,3.675],"nice":false,"zero":false},"axis":{"values":[0,2],"format":"d"}},"y":{"field":"v","type":"quantitative","title":null,"scale":{"domain":[-1,20],"nice":false,"zero":false},"axis":{"values":[0,10,20],"format":"d"}},"color":{"field":"s","type":"nominal","scale":{"domain":["untreated","\"off\" meds","\"on\" meds","MAO-B"],"range":["#0000ff","#008000","#ff0000","#bfbf00"]},"legend":null},"strokeDash":{"field":"s","type":"nominal","scale":{"domain":["untreated","\"off\" meds","\"on\" meds","MAO-B"],"range":[[1,0],[17.8,4.4,2.8,4.4],[2.8,4.6],[10.3,4.4]]},"legend":null}}},
{"title":{"text":"Rigidity right","dy":11.25},"width":150,"height":141,"transform":[{"filter":"datum.p=='53'"}],"mark":{"type":"line","strokeWidth":2.8,"strokeJoin":"round"},"encoding":{"x":{"field":"t","type":"quantitative","title":null,"scale":{"domain":[-0.175,3.675],"nice":false,"zero":false},"axis":{"values":[0,2],"format":"d"}},"y":{"field":"v","type":"quantitative","title":null,"scale":{"domain":[-1,20],"nice":false,"zero":false},"axis":{"values":[0,10,20],"format":"d"}},"color":{"field":"s","type":"nominal","scale":{"domain":["untreated","\"off\" meds","\"on\" meds","MAO-B"],"range":["#0000ff","#008000","#ff0000","#bfbf00"]},"legend":null},"strokeDash":{"field":"s","type":"nominal","scale":{"domain":["untreated","\"off\" meds","\"on\" meds","MAO-B"],"range":[[1,0],[17.8,4.4,2.8,4.4],[2.8,4.6],[10.3,4.4]]},"legend":null}}},
{"title":"Face","width":150,"height":141,"transform":[{"filter":"datum.p=='54'"}],"mark":{"type":"line","strokeWidth":2.8,"strokeJoin":"round"},"encoding":{"x":{"field":"t","type":"quantitative","title":null,"scale":{"domain":[-0.175,3.675],"nice":false,"zero":false},"axis":{"values":[0,2],"format":"d"}},"y":{"field":"v","type":"quantitative","title":null,"scale":{"domain":[-1,11],"nice":false,"zero":false},"axis":{"values":[0,5,10],"format":"d"}},"color":{"field":"s","type":"nominal","scale":{"domain":["untreated","\"off\" meds","\"on\" meds","MAO-B"],"range":["#0000ff","#008000","#ff0000","#bfbf00"]},"legend":null},"strokeDash":{"field":"s","type":"nominal","scale":{"domain":["untreated","\"off\" meds","\"on\" meds","MAO-B"],"range":[[1,0],[17.8,4.4,2.8,4.4],[2.8,4.6],[10.3,4.4]]},"legend":null}}},
{"title":"Gait","width":150,"height":141,"transform":[{"filter":"datum.p=='55'"}],"mark":{"type":"line","strokeWidth":2.8,"strokeJoin":"round"},"encoding":{"x":{"field":"t","type":"quantitative","title":null,"scale":{"domain":[-0.175,3.675],"nice":false,"zero":false},"axis":{"values":[0,2],"format":"d"}},"y":{"field":"v","type":"quantitative","title":null,"scale":{"domain":[-1,11],"nice":false,"zero":false},"axis":{"values":[0,5,10],"format":"d"}},"color":{"field":"s","type":"nominal","scale":{"domain":["untreated","\"off\" meds","\"on\" meds","MAO-B"],"range":["#0000ff","#008000","#ff0000","#bfbf00"]},"legend":null},"strokeDash":{"field":"s","type":"nominal","scale":{"domain":["untreated","\"off\" meds","\"on\" meds","MAO-B"],"range":[[1,0],[17.8,4.4,2.8,4.4],[2.8,4.6],[10.3,4.4]]},"legend":null}}},
{"title":"Daily activities","width":150,"height":141,"transform":[{"filter":"datum.p=='56'"}],"mark":{"type":"line","strokeWidth":2.8,"strokeJoin":"round"},"encoding":{"x":{"field":"t","type":"quantitative","title":null,"scale":{"domain":[-0.175,3.675],"nice":false,"zero":false},"axis":{"values":[0,2],"format":"d"}},"y":{"field":"v","type":"quantitative","title":null,"scale":{"domain":[-1,27],"nice":false,"zero":false},"axis":{"values":[0,10,20],"format":"d"}},"color":{"field":"s","type":"nominal","scale":{"domain":["untreated","\"off\" meds","\"on\" meds","MAO-B"],"range":["#0000ff","#008000","#ff0000","#bfbf00"]},"legend":null},"strokeDash":{"field":"s","type":"nominal","scale":{"domain":["untreated","\"off\" meds","\"on\" meds","MAO-B"],"range":[[1,0],[17.8,4.4,2.8,4.4],[2.8,4.6],[10.3,4.4]]},"legend":null}}},
{"title":"Part III","width":150,"height":141,"transform":[{"filter":"datum.p=='57'"}],"mark":{"type":"line","strokeWidth":2.8,"strokeJoin":"round"},"encoding":{"x":{"field":"t","type":"quantitative","title":null,"scale":{"domain":[-0.175,3.675],"nice":false,"zero":false},"axis":{"values":[0,2],"format":"d"}},"y":{"field":"v","type":"quantitative","title":null,"scale":{"domain":[2,59],"nice":false,"zero":false},"axis":{"values":[20,40],"format":"d"}},"color":{"field":"s","type":"nominal","scale":{"domain":["untreated","\"off\" meds","\"on\" meds","MAO-B"],"range":["#0000ff","#008000","#ff0000","#bfbf00"]},"legend":{"orient":"bottom-right","title":null}},"strokeDash":{"field":"s","type":"nominal","scale":{"domain":["untreated","\"off\" meds","\"on\" meds","MAO-B"],"range":[[1,0],[17.8,4.4,2.8,4.4],[2.8,4.6],[10.3,4.4]]},"legend":{"orient":"bottom-right","title":null}}}}
],
"config":{
"font":"DejaVu Sans",
"view":{"stroke":"#000000","strokeWidth":1.1},
"axis":{"grid":false,"domain":false,"ticks":true,"tickColor":"#000000","tickWidth":1.1,"tickSize":3.5,"labelFont":"DejaVu Sans","labelFontSize":14.5,"labelColor":"#000000","labelPadding":1.5,"labelFlush":false,"labelOverlap":false,"labelBound":false},
"title":{"font":"DejaVu Sans","fontSize":17.5,"fontWeight":"normal","color":"#000000","anchor":"middle","frame":"group","offset":0,"dy":4,"baseline":"alphabetic"},
"legend":{"offset":12,"padding":4,"fillColor":"rgba(255,255,255,0.8)","strokeColor":"#cccccc","cornerRadius":3,"symbolType":"M-1,0H2.2","symbolSize":361,"symbolStrokeWidth":2.8,"symbolOpacity":1,"labelFont":"DejaVu Sans","labelFontSize":14.5,"labelColor":"#000000","labelOffset":20,"rowPadding":2.7}
}
}
